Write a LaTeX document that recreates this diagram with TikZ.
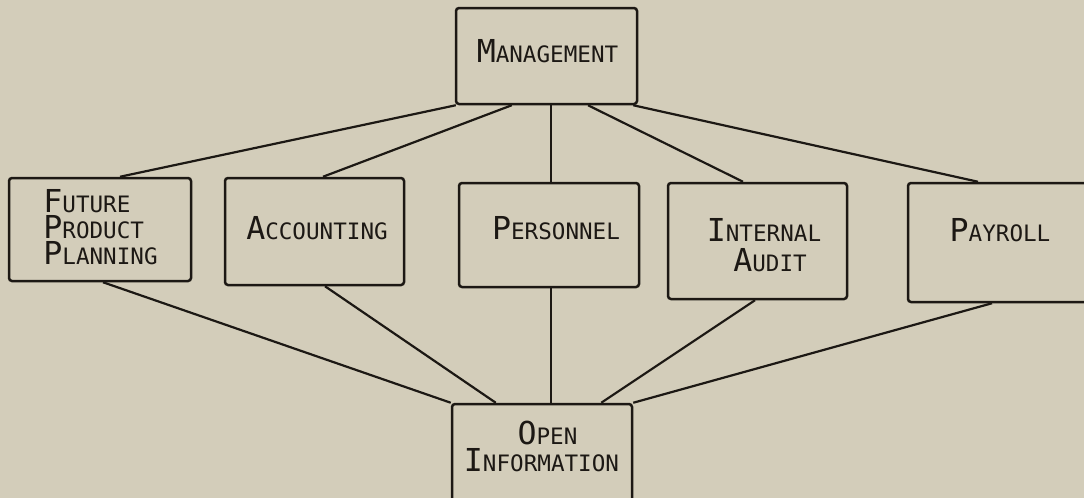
\documentclass[tikz,border=0pt]{standalone}
\usepackage{fontspec}
\newfontfamily\leroyfont{DejaVu Sans Mono}
\usetikzlibrary{calc}
\definecolor{paper}{RGB}{211,205,186}
\definecolor{ink}{RGB}{28,24,20}
\newcommand\Lcap[2]{{\fontsize{15.8}{13}\selectfont #1}#2}
\begin{document}
\begin{tikzpicture}[x=0.5pt,y=-0.5pt,
  box/.style={draw=ink, line width=1.25pt, rounded corners=1.5pt, inner sep=0pt},
  lbl/.style={inner sep=0pt, text=ink, text height=11.5pt, text depth=0pt, font=\leroyfont\fontsize{11.3}{13}\selectfont},
  link/.style={draw=ink, line width=1.1pt}]
\useasboundingbox (0,0) rectangle (1084,498);
\fill[paper] (0,0) rectangle (1084,498);
\clip (0,0) rectangle (1084,498);
% boxes
\node[box, minimum width=90.5pt, minimum height=48pt] (mgmt) at (546.5,56) {};
\node[box, minimum width=91pt, minimum height=51.5pt] (fpp) at (100,229.5) {};
\node[box, minimum width=89.5pt, minimum height=53.5pt] (acc) at (314.5,231.5) {};
\node[box, minimum width=90pt, minimum height=52pt] (pers) at (549,235) {};
\node[box, minimum width=89.5pt, minimum height=58pt] (ia) at (757.5,241) {};
\node[box, minimum width=92pt, minimum height=59.5pt] (pay) at (1000,242.5) {};
\node[box, minimum width=90pt, minimum height=58pt] (open) at (542,462) {};
% labels
\node[lbl, anchor=base] (tmgmt) at (547.5,62) {\Lcap{M}{ANAGEMENT}};
\node[lbl, anchor=base west] (tfpa) at (43,212) {\Lcap{F}{UTURE}};
\node[lbl, anchor=base west] (tfpb) at (43,238) {\Lcap{P}{RODUCT}};
\node[lbl, anchor=base west] (tfpc) at (43,264) {\Lcap{P}{LANNING}};
\node[lbl, anchor=base] (tacc) at (317,239) {\Lcap{A}{CCOUNTING}};
\node[lbl, anchor=base] (tpers) at (556,239) {\Lcap{P}{ERSONNEL}};
\node[lbl, anchor=base] (tiaa) at (764,241) {\Lcap{I}{NTERNAL}};
\node[lbl, anchor=base] (tiab) at (770,271) {\Lcap{A}{UDIT}};
\node[lbl, anchor=base] (tpay) at (1000,241) {\Lcap{P}{AYROLL}};
\node[lbl, anchor=base] (topa) at (547.5,444) {\Lcap{O}{PEN}};
\node[lbl, anchor=base] (topb) at (541.5,471) {\Lcap{I}{NFORMATION}};
% upper connectors
\draw[link] ($(mgmt.south west)+(1,0)$) -- ($(fpp.north)+(20,0)$);
\draw[link] ($(mgmt.south west)+(57,0)$) -- ($(acc.north)+(8.5,0)$);
\draw[link] ($(mgmt.south)+(4.5,0)$) -- ($(pers.north)+(2,0)$);
\draw[link] ($(mgmt.south)+(41.5,0)$) -- ($(ia.north)+(-14.5,0)$);
\draw[link] ($(mgmt.south east)+(-5,0)$) -- ($(pay.north)+(-22,0)$);
% lower connectors
\draw[link] ($(fpp.south)+(3,0)$) -- (open.north west);
\draw[link] ($(acc.south)+(10.5,0)$) -- ($(open.north west)+(45,0)$);
\draw[link] ($(pers.south)+(2,0)$) -- ($(open.north)+(9,0)$);
\draw[link] ($(ia.south)+(-2.5,0)$) -- ($(open.north east)+(-32,0)$);
\draw[link] ($(pay.south)+(-8,0)$) -- (open.north east);
\end{tikzpicture}
\end{document}
